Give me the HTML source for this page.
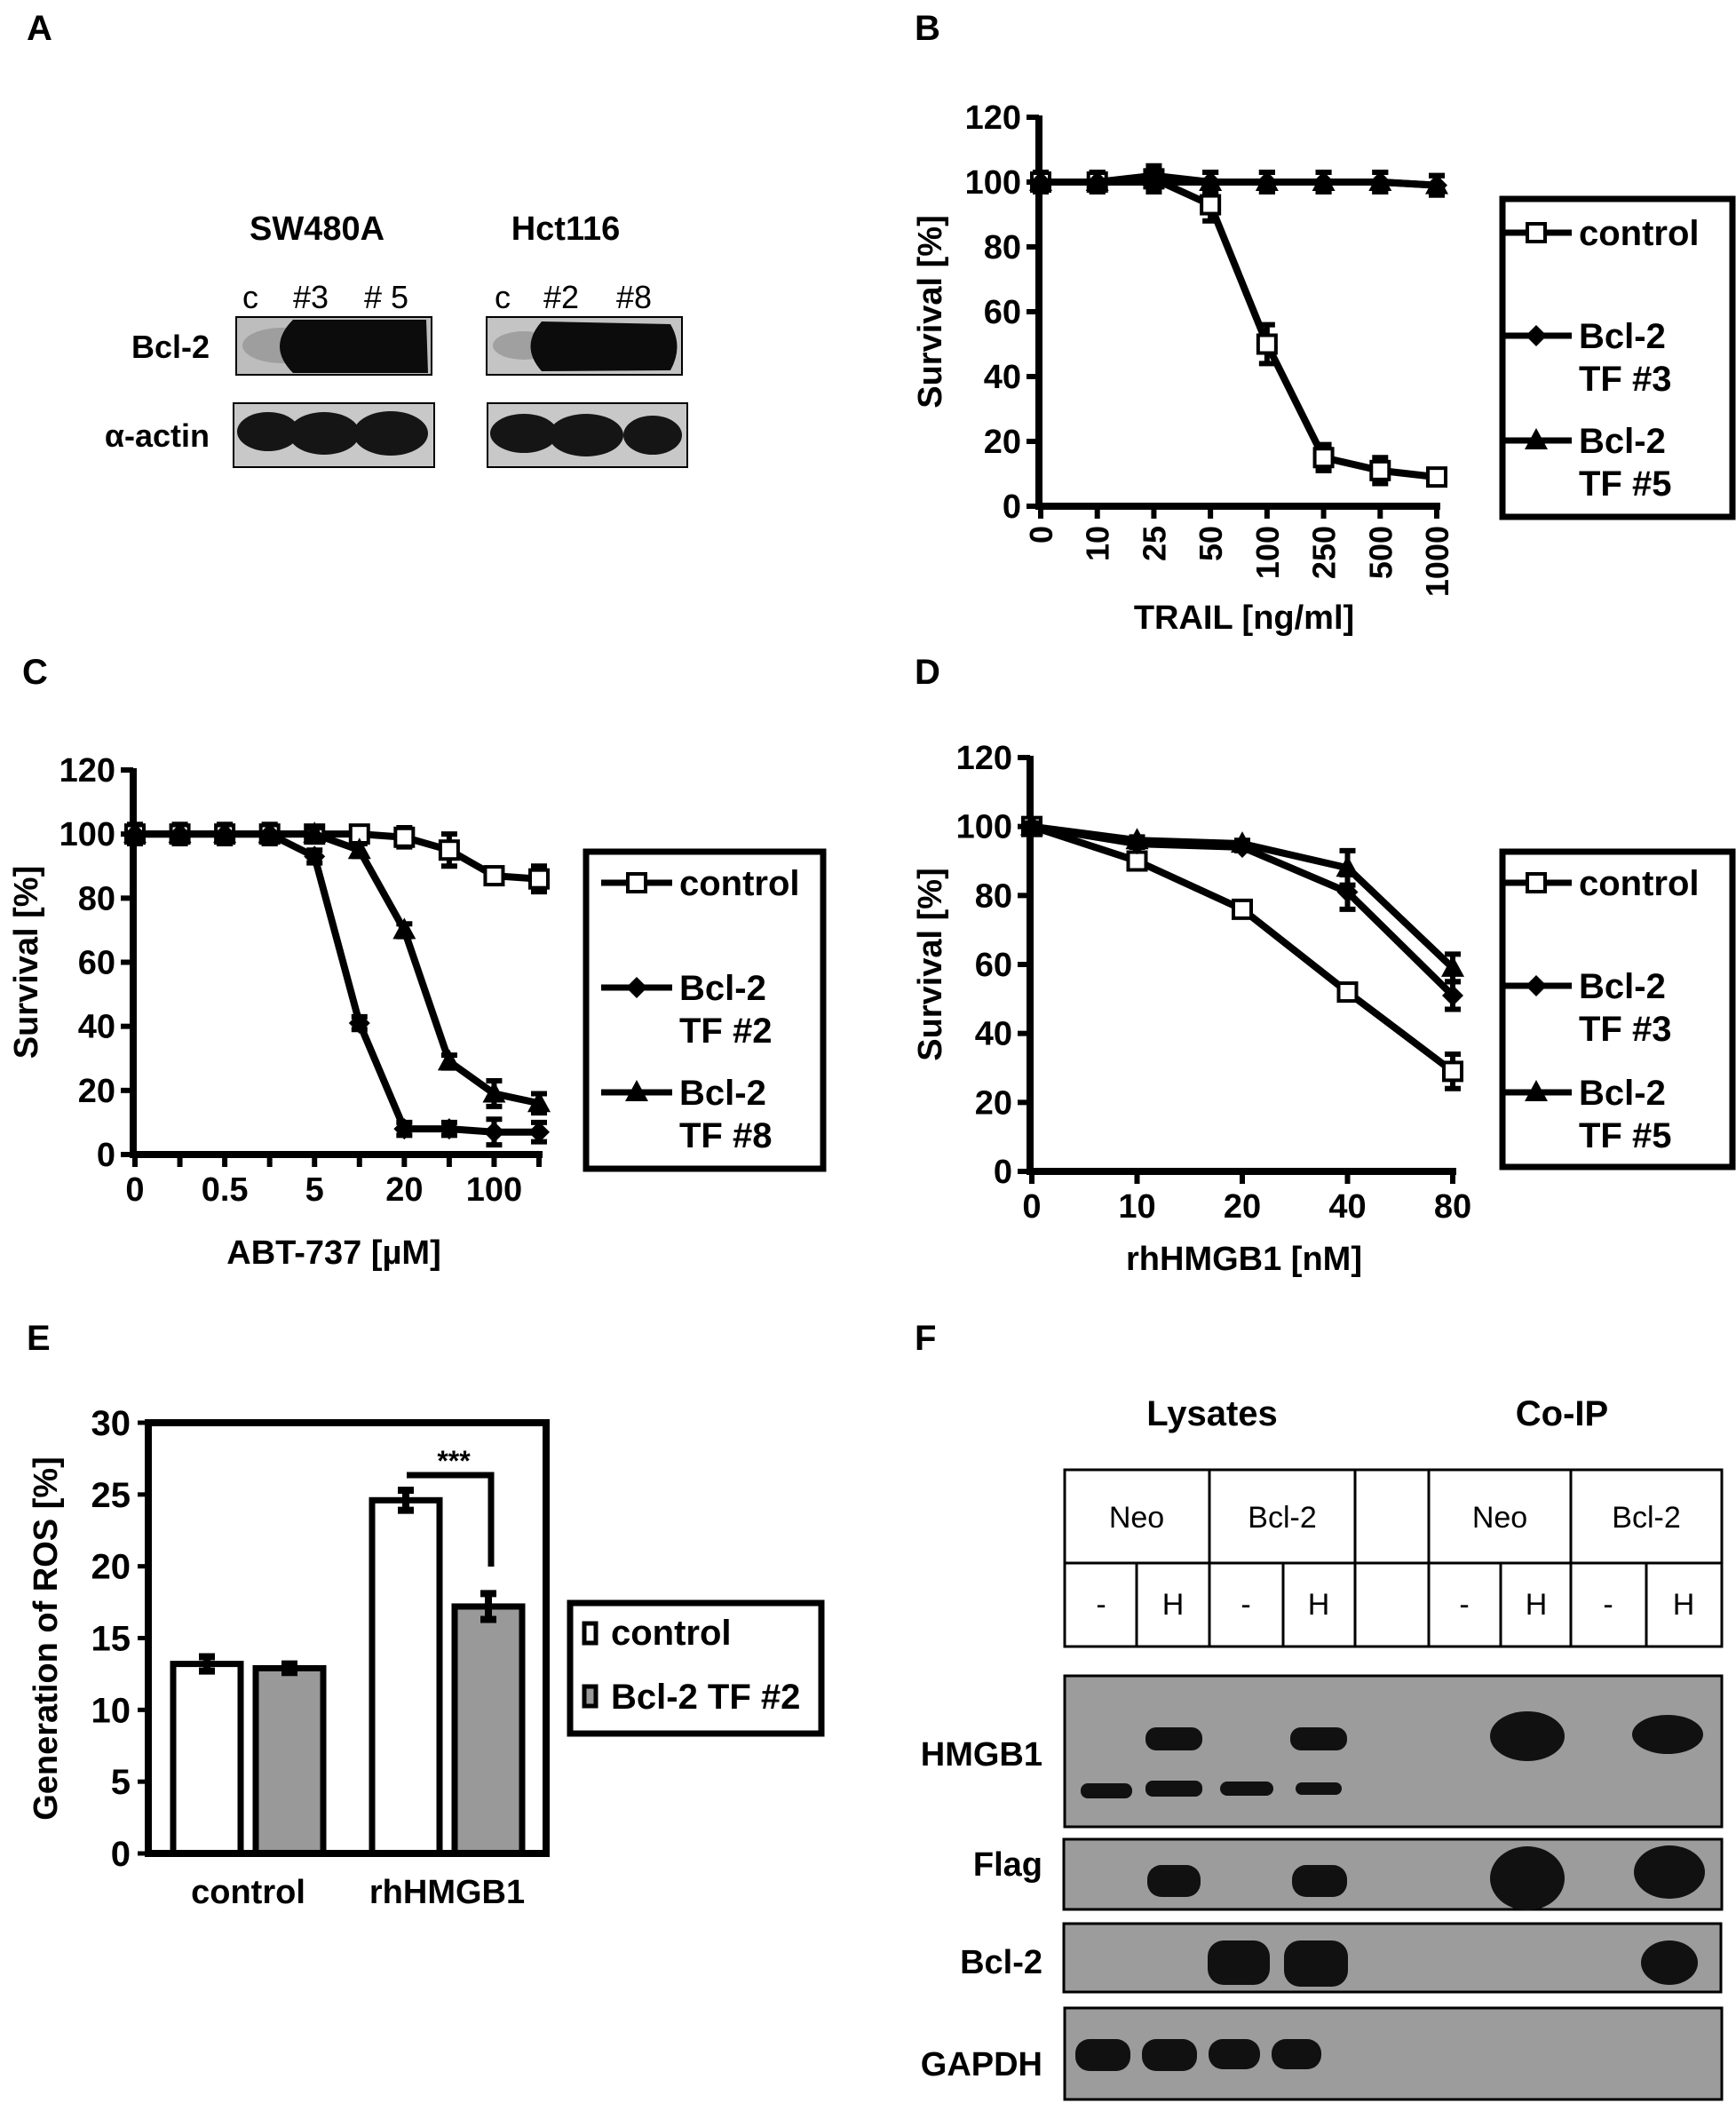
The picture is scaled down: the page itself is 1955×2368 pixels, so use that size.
<!DOCTYPE html>
<html><head><meta charset="utf-8"><style>
html,body{margin:0;padding:0;background:#fff;}
svg{display:block;}
text{font-family:"Liberation Sans Narrow","Liberation Sans",sans-serif;font-weight:bold;fill:#000;}
.reg{font-family:"Liberation Sans",sans-serif;font-weight:normal;}
</style></head><body>
<svg id="fig" width="1955" height="2368" viewBox="0 0 1955 2368" xmlns="http://www.w3.org/2000/svg">
<rect x="0" y="0" width="1955" height="2368" fill="#fff"/>
<text x="30" y="45" font-size="40" style="font-family:'Liberation Sans',sans-serif">A</text>
<text x="1030" y="45" font-size="40" style="font-family:'Liberation Sans',sans-serif">B</text>
<text x="25" y="770" font-size="40" style="font-family:'Liberation Sans',sans-serif">C</text>
<text x="1030" y="770" font-size="40" style="font-family:'Liberation Sans',sans-serif">D</text>
<text x="30" y="1520" font-size="40" style="font-family:'Liberation Sans',sans-serif">E</text>
<text x="1030" y="1520" font-size="40" style="font-family:'Liberation Sans',sans-serif">F</text>

<g>
<text x="357" y="270" font-size="38" text-anchor="middle">SW480A</text>
<text x="637" y="270" font-size="38" text-anchor="middle">Hct116</text>
<g class="reg" font-size="36" text-anchor="middle">
<text class="reg" x="282" y="347">c</text><text class="reg" x="350" y="347">#3</text><text class="reg" x="435" y="347"># 5</text>
<text class="reg" x="566" y="347">c</text><text class="reg" x="632" y="347">#2</text><text class="reg" x="714" y="347">#8</text>
</g>
<text x="236" y="403" font-size="36" text-anchor="end">Bcl-2</text>
<text x="236" y="503" font-size="36" text-anchor="end">α-actin</text>
<rect x="266" y="357" width="220" height="65" fill="#bdbdbd" stroke="#000" stroke-width="2"/>
<ellipse cx="318" cy="389" rx="45" ry="20" fill="#888" opacity="0.6"/>
<path d="M330 360 L480 360 L482 420 L330 420 Q300 390 330 360Z" fill="#0c0c0c"/>
<rect x="548" y="357" width="220" height="65" fill="#c4c4c4" stroke="#000" stroke-width="2"/>
<ellipse cx="590" cy="389" rx="35" ry="16" fill="#888" opacity="0.6"/>
<path d="M610 362 L755 365 Q770 390 755 417 L610 418 Q585 390 610 362Z" fill="#0c0c0c"/>
<rect x="263" y="454" width="226" height="72" fill="#c8c8c8" stroke="#000" stroke-width="2"/>
<ellipse cx="302" cy="486" rx="35" ry="22" fill="#151515"/><ellipse cx="365" cy="488" rx="40" ry="24" fill="#151515"/><ellipse cx="440" cy="488" rx="42" ry="25" fill="#151515"/>
<rect x="549" y="454" width="225" height="72" fill="#c8c8c8" stroke="#000" stroke-width="2"/>
<ellipse cx="590" cy="488" rx="38" ry="22" fill="#151515"/><ellipse cx="660" cy="490" rx="42" ry="24" fill="#151515"/><ellipse cx="735" cy="490" rx="33" ry="22" fill="#151515"/>
</g>

<g id="chartB"></g>
<g id="chartC"></g>
<g id="chartD"></g>
<g id="chartE"></g>

<g>
<text x="1365" y="1605" font-size="40" text-anchor="middle">Lysates</text>
<text x="1759" y="1605" font-size="40" text-anchor="middle">Co-IP</text>
<g fill="none" stroke="#000" stroke-width="3">
<rect x="1199" y="1655" width="740" height="199"/>
<line x1="1199" y1="1760" x2="1939" y2="1760"/>
<line x1="1362" y1="1655" x2="1362" y2="1854"/><line x1="1526" y1="1655" x2="1526" y2="1854"/>
<line x1="1609" y1="1655" x2="1609" y2="1854"/><line x1="1769" y1="1655" x2="1769" y2="1854"/>
<line x1="1280" y1="1760" x2="1280" y2="1854"/><line x1="1445" y1="1760" x2="1445" y2="1854"/>
<line x1="1690" y1="1760" x2="1690" y2="1854"/><line x1="1854" y1="1760" x2="1854" y2="1854"/>
</g>
<g font-size="34" text-anchor="middle">
<text class="reg" x="1280" y="1720">Neo</text><text class="reg" x="1444" y="1720">Bcl-2</text>
<text class="reg" x="1689" y="1720">Neo</text><text class="reg" x="1854" y="1720">Bcl-2</text>
<text class="reg" x="1240" y="1818">-</text><text class="reg" x="1321" y="1818">H</text>
<text class="reg" x="1403" y="1818">-</text><text class="reg" x="1485" y="1818">H</text>
<text class="reg" x="1649" y="1818">-</text><text class="reg" x="1730" y="1818">H</text>
<text class="reg" x="1811" y="1818">-</text><text class="reg" x="1896" y="1818">H</text>
</g>
<g font-size="38" text-anchor="end">
<text x="1174" y="1988">HMGB1</text><text x="1174" y="2112">Flag</text>
<text x="1174" y="2222">Bcl-2</text><text x="1174" y="2337">GAPDH</text>
</g>
<g stroke="#000" stroke-width="3" fill="#9c9c9c">
<rect x="1199" y="1887" width="740" height="170"/>
<rect x="1198" y="2071" width="741" height="79"/>
<rect x="1198" y="2166" width="740" height="77"/>
<rect x="1199" y="2261" width="740" height="103"/>
</g>
<g fill="#111">
<rect x="1290" y="1945" width="64" height="26" rx="12"/><rect x="1453" y="1945" width="64" height="26" rx="12"/>
<ellipse cx="1720" cy="1955" rx="42" ry="28"/><ellipse cx="1878" cy="1953" rx="40" ry="22"/>
<rect x="1217" y="2008" width="58" height="17" rx="8"/><rect x="1290" y="2005" width="64" height="18" rx="8"/>
<rect x="1374" y="2006" width="60" height="16" rx="8"/><rect x="1459" y="2007" width="52" height="14" rx="7"/>
<rect x="1292" y="2100" width="60" height="36" rx="16"/><rect x="1455" y="2100" width="62" height="36" rx="16"/>
<ellipse cx="1720" cy="2115" rx="42" ry="36"/><ellipse cx="1880" cy="2108" rx="40" ry="30"/>
<rect x="1360" y="2185" width="70" height="50" rx="18"/><rect x="1446" y="2185" width="72" height="52" rx="18"/>
<ellipse cx="1880" cy="2210" rx="32" ry="25"/>
<rect x="1211" y="2296" width="62" height="36" rx="16"/><rect x="1286" y="2296" width="62" height="36" rx="16"/>
<rect x="1361" y="2296" width="58" height="34" rx="16"/><rect x="1432" y="2296" width="56" height="34" rx="16"/>
</g>
</g>
</svg>
<script>
const bCategories = ["0","10","25","50","100","250","500","1000"];
const bControl = [100,100,101,93,50,15,11,9];
const bControlErr = [2,2,2,5,6,4,4,1];
const bTF3 = [100,100,100,100,100,100,100,99];
const bTF5 = [100,100,102,100,100,100,100,99];
const bTFErr = [3,3,3,3,3,3,3,3];

const cCategories = ["0","","0.5","","5","","20","","100",""];
const cControl = [100,100,100,100,100,100,99,95,87,86];
const cControlErr = [2,2,2,2,2,2,3,5,2,4];
const cTF2 = [100,100,100,100,93,41,8,8,7,7];
const cTF8 = [100,100,100,100,100,95,70,29,19,16];
const cTFErr = [3,3,3,3,2,2,2,2,4,3];

const dCategories = ["0","10","20","40","80"];
const dControl = [100,90,76,52,29];
const dControlErr = [1,1,1,1,5];
const dTF3 = [100,95,94,81,51];
const dTF5 = [100,96,95,88,59];
const dTFErr = [1,1,1,5,4];

const eGroups = ["control","rhHMGB1"];
const eControl = [13.2,24.6];
const eControlErr = [0.5,0.7];
const eTF2 = [12.9,17.2];
const eTF2Err = [0.3,0.9];
const eTicks = [0,5,10,15,20,25,30];
const yTicks = [0,20,40,60,80,100,120];

const NS = "http://www.w3.org/2000/svg";
function mk(parent, tag, attrs){ const e=document.createElementNS(NS,tag); for(const k in attrs) e.setAttribute(k,attrs[k]); parent.appendChild(e); return e; }
function txt(parent, x, y, s, size, anchor, extra){ const t=mk(parent,"text",Object.assign({x:x,y:y,"font-size":size,"text-anchor":anchor||"start"},extra||{})); t.textContent=s; return t; }

function marker(g, type, x, y){
  let m;
  if(type==="square"){ m=mk(g,"rect",{x:x-10,y:y-10,width:20,height:20,fill:"#fff",stroke:"#000","stroke-width":4}); }
  else if(type==="diamond"){ m=mk(g,"polygon",{points:`${x},${y-12} ${x+12},${y} ${x},${y+12} ${x-12},${y}`,fill:"#000"}); }
  else { m=mk(g,"polygon",{points:`${x},${y-14} ${x+13},${y+10} ${x-13},${y+10}`,fill:"#000"}); }
  return m;
}

function lineChart(id, o){
  const g=document.getElementById(id);
  const sx=i=>o.x0+i*(o.x1-o.x0)/(o.cats.length-1);
  const sy=v=>o.y0-(v/120)*(o.y0-o.y120);
  const ax=mk(g,"path",{d:`M${o.axX} ${o.y120-2} L${o.axX} ${o.y0} L${sx(o.cats.length-1)+4} ${o.y0}`,fill:"none",stroke:"#000","stroke-width":8});
  
  
  yTicks.forEach(v=>{
    mk(g,"line",{x1:o.axX-14,x2:o.axX,y1:sy(v),y2:sy(v),stroke:"#000","stroke-width":6});
    const t=txt(g,o.axX-20,sy(v)+13,String(v),38,"end");
    
    
  });
  o.cats.forEach((c,i)=>{
    mk(g,"line",{x1:sx(i),x2:sx(i),y1:o.y0,y2:o.y0+14,stroke:"#000","stroke-width":6});
    if(c==="") return;
    let t;
    if(o.rotate){ t=txt(g,0,0,c,36,"end",{transform:`translate(${sx(i)+13},${o.y0+22}) rotate(-90)`,style:"font-family:'Liberation Sans',sans-serif"}); }
    else { t=txt(g,sx(i),o.y0+52,c,38,"middle"); }
    
    
  });
  const yl=txt(g,0,0,"Survival [%]",38,"middle",{transform:`translate(${o.ylabX},${(o.y0+o.y120)/2}) rotate(-90)`,style:"font-family:'Liberation Sans',sans-serif"});
  
  
  const xl=txt(g,o.xlab[1],o.xlab[2],o.xlab[0],38,"middle",{style:"font-family:'Liberation Sans',sans-serif"});
  
  
  o.series.forEach(s=>{
    const sg=mk(g,"g",{});
    
    
    const pts=s.vals.map((v,i)=>`${sx(i)},${sy(v)}`).join(" ");
    mk(sg,"polyline",{points:pts,fill:"none",stroke:"#000","stroke-width":8,"stroke-linejoin":"round"});
    s.vals.forEach((v,i)=>{
      const e=s.err[i], x=sx(i);
      mk(sg,"path",{d:`M${x} ${sy(v+e)} L${x} ${sy(v-e)} M${x-9} ${sy(v+e)} L${x+9} ${sy(v+e)} M${x-9} ${sy(v-e)} L${x+9} ${sy(v-e)}`,stroke:"#000","stroke-width":6,fill:"none"});
      const m=marker(sg,s.marker,x,sy(v));
      
      
    });
  });
  const L=o.legend;
  const lg=mk(g,"g",{});
  
  
  mk(lg,"rect",{x:L.x,y:L.y,width:L.w,height:L.h,fill:"#fff",stroke:"#000","stroke-width":7});
  L.entries.forEach(en=>{
    const eg=mk(lg,"g",{});
    
    
    mk(eg,"line",{x1:L.lx,x2:L.lx+80,y1:en.y,y2:en.y,stroke:"#000","stroke-width":7});
    marker(eg,en.marker,L.lx+40,en.y);
    en.lines.forEach((s,k)=>txt(eg,L.lx+88,en.y+14+k*48,s,40,"start"));
  });
}

lineChart("chartB",{cats:bCategories,x0:1172,x1:1618,axX:1170,y0:570,y120:132,rotate:true,ylabX:1060,
  xlab:["TRAIL [ng/ml]",1401,708],
  series:[{name:"control",vals:bControl,err:bControlErr,marker:"square"},{name:"bcl2-tf3",vals:bTF3,err:bTFErr,marker:"diamond"},{name:"bcl2-tf5",vals:bTF5,err:bTFErr,marker:"triangle"}],
  legend:{x:1692,y:224,w:259,h:358,lx:1690,entries:[{y:262,marker:"square",lines:["control"]},{y:378,marker:"diamond",lines:["Bcl-2","TF #3"]},{y:496,marker:"triangle",lines:["Bcl-2","TF #5"]}]}});
lineChart("chartC",{cats:cCategories,x0:152,x1:607,axX:150,y0:1300,y120:867,rotate:false,ylabX:42,
  xlab:["ABT-737 [µM]",376,1423],
  series:[{name:"control",vals:cControl,err:cControlErr,marker:"square"},{name:"bcl2-tf2",vals:cTF2,err:cTFErr,marker:"diamond"},{name:"bcl2-tf8",vals:cTF8,err:cTFErr,marker:"triangle"}],
  legend:{x:660,y:959,w:267,h:357,lx:677,entries:[{y:994,marker:"square",lines:["control"]},{y:1112,marker:"diamond",lines:["Bcl-2","TF #2"]},{y:1230,marker:"triangle",lines:["Bcl-2","TF #8"]}]}});
lineChart("chartD",{cats:dCategories,x0:1162,x1:1636,axX:1160,y0:1319,y120:853,rotate:false,ylabX:1060,
  xlab:["rhHMGB1 [nM]",1401,1430],
  series:[{name:"control",vals:dControl,err:dControlErr,marker:"square"},{name:"bcl2-tf3",vals:dTF3,err:dTFErr,marker:"diamond"},{name:"bcl2-tf5",vals:dTF5,err:dTFErr,marker:"triangle"}],
  legend:{x:1692,y:959,w:259,h:355,lx:1690,entries:[{y:994,marker:"square",lines:["control"]},{y:1110,marker:"diamond",lines:["Bcl-2","TF #3"]},{y:1230,marker:"triangle",lines:["Bcl-2","TF #5"]}]}});

(function(){
  const g=document.getElementById("chartE");
  const axX=167, y0=2087, y30=1602, right=615;
  const sy=v=>y0-v/30*(y0-y30);
  const groupX=[195,419], bw=76, gap=93;
  eGroups.forEach((name,i)=>{
    [[eControl,eControlErr,"#fff","control"],[eTF2,eTF2Err,"#999","bcl2-tf2"]].forEach((s,k)=>{
      const x=groupX[i]+k*gap, v=s[0][i], e=s[1][i];
      const r=mk(g,"rect",{x:x,y:sy(v),width:bw,height:y0-sy(v),fill:s[2],stroke:"#000","stroke-width":7});
      
      
      const cx=x+bw/2;
      mk(g,"path",{d:`M${cx} ${sy(v+e)} L${cx} ${sy(v-e)} M${cx-9} ${sy(v+e)} L${cx+9} ${sy(v+e)} M${cx-9} ${sy(v-e)} L${cx+9} ${sy(v-e)}`,stroke:"#000","stroke-width":8,fill:"none"});
    });
    const t=txt(g,groupX[i]+(bw+gap)/2,2143,name,38,"middle");
    
    
  });
  const fr=mk(g,"path",{d:`M${axX} ${y30} L${axX} ${y0} L${right} ${y0} L${right} ${y30} Z`,fill:"none",stroke:"#000","stroke-width":8});
  
  
  eTicks.forEach(v=>{
    mk(g,"line",{x1:axX-12,x2:axX,y1:sy(v),y2:sy(v),stroke:"#000","stroke-width":5});
    const t=txt(g,axX-20,sy(v)+14,String(v),40,"end");
    
    
  });
  const yl=txt(g,0,0,"Generation of ROS [%]",38,"middle",{transform:`translate(64,1845) rotate(-90)`,style:"font-family:'Liberation Sans',sans-serif"});
  
  
  const br=mk(g,"path",{d:`M458 1661 L553 1661 L553 1764`,fill:"none",stroke:"#000","stroke-width":7});
  
  
  const st=txt(g,511,1656,"***",32,"middle");
  
  
  const lg=mk(g,"g",{});
  
  
  mk(lg,"rect",{x:642,y:1805,width:283,height:147,fill:"#fff",stroke:"#000","stroke-width":7});
  mk(lg,"rect",{x:658,y:1828,width:13,height:22,fill:"#fff",stroke:"#000","stroke-width":5});
  txt(lg,688,1852,"control",40,"start");
  mk(lg,"rect",{x:658,y:1899,width:13,height:22,fill:"#999",stroke:"#000","stroke-width":5});
  txt(lg,688,1924,"Bcl-2 TF #2",40,"start");
})();
</script>
</body></html>
